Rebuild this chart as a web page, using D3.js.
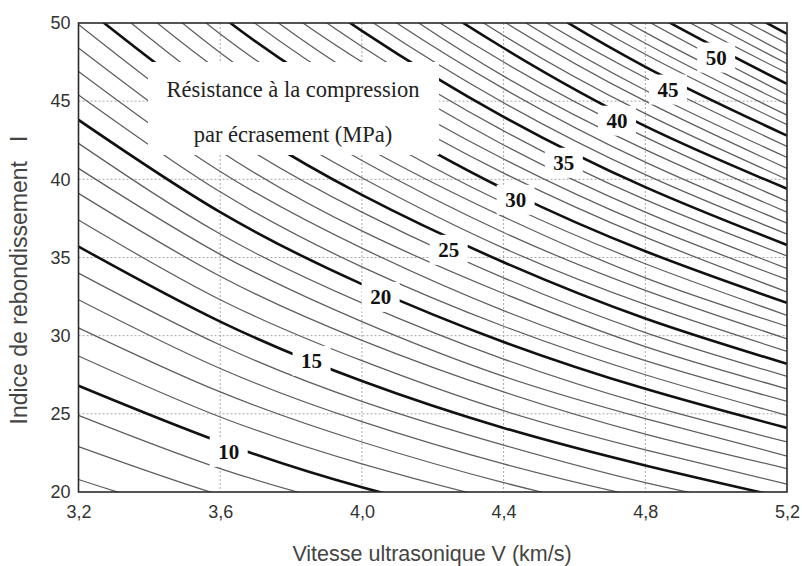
<!DOCTYPE html>
<html><head><meta charset="utf-8">
<script src="https://cdn.jsdelivr.net/npm/d3@7"></script>
<style>body{margin:0;background:#fff}svg{display:block}</style>
</head><body><svg id="chart" width="802" height="566"></svg>
<script>
// ---- data ----
const velocityTicks = [3.2, 3.6, 4.0, 4.4, 4.8, 5.2];
const reboundTicks = [20, 25, 30, 35, 40, 45, 50];
const gridVelocity = [3.6, 4.0, 4.4, 4.8];
const gridRebound = [25, 30, 35, 40, 45];

// strength levels (MPa) of the iso-lines
const levels = [7,8,9,10,11,12,13,14,15,16,17,18,19,20,21,22,23,24,25,26,27,28,29,30,31,
  32,33,34,35,36,37,38,39,40,41,42,43,44,45,46,47,48,49,50,51,52,53,54,55,56];
// rebound index I of each iso-line at each velocity tick
const reboundAtV32 = [20.8,22.9,24.9,26.8,28.7,30.5,32.3,34.0,35.7,37.4,39.1,40.7,42.3,43.8,45.4,46.9,48.4,49.9,51.3,52.8,54.2,55.6,57.0,58.4,59.8,
  61.2,62.5,63.8,65.2,66.5,67.8,69.1,70.4,71.6,72.9,74.2,75.4,76.6,77.9,79.1,80.3,81.5,82.7,83.9,85.1,86.3,87.5,88.6,89.8,90.9];
const reboundAtV36 = [18.0,19.8,21.5,23.2,24.8,26.4,27.9,29.4,30.9,32.3,33.8,35.2,36.5,37.9,39.2,40.5,41.8,43.1,44.4,45.6,46.9,48.1,49.3,50.5,51.7,
  52.9,54.0,55.2,56.3,57.5,58.6,59.7,60.8,61.9,63.0,64.1,65.2,66.3,67.3,68.4,69.5,70.5,71.5,72.6,73.6,74.6,75.6,76.6,77.6,78.6];
const reboundAtV40 = [15.8,17.4,18.9,20.3,21.8,23.2,24.5,25.8,27.1,28.4,29.7,30.9,32.1,33.3,34.4,35.6,36.7,37.9,39.0,40.1,41.2,42.2,43.3,44.4,45.4,
  46.4,47.5,48.5,49.5,50.5,51.5,52.5,53.4,54.4,55.4,56.3,57.3,58.2,59.1,60.1,61.0,61.9,62.8,63.7,64.6,65.5,66.4,67.3,68.2,69.1];
const reboundAtV44 = [14.0,15.4,16.8,18.1,19.4,20.6,21.8,23.0,24.1,25.2,26.4,27.4,28.5,29.6,30.6,31.6,32.7,33.7,34.7,35.6,36.6,37.6,38.5,39.4,40.4,
  41.3,42.2,43.1,44.0,44.9,45.8,46.6,47.5,48.4,49.2,50.1,50.9,51.7,52.6,53.4,54.2,55.0,55.8,56.7,57.5,58.3,59.0,59.8,60.6,61.4];
const reboundAtV48 = [12.6,13.9,15.1,16.2,17.4,18.5,19.6,20.6,21.7,22.7,23.7,24.7,25.6,26.6,27.5,28.4,29.3,30.2,31.1,32.0,32.9,33.7,34.6,35.4,36.3,
  37.1,37.9,38.7,39.5,40.3,41.1,41.9,42.7,43.4,44.2,45.0,45.7,46.5,47.2,48.0,48.7,49.4,50.2,50.9,51.6,52.3,53.0,53.7,54.4,55.1];
const reboundAtV52 = [11.4,12.6,13.7,14.7,15.7,16.8,17.7,18.7,19.6,20.5,21.5,22.3,23.2,24.1,24.9,25.8,26.6,27.4,28.2,29.0,29.8,30.6,31.3,32.1,32.8,
  33.6,34.3,35.1,35.8,36.5,37.2,37.9,38.6,39.4,40.0,40.7,41.4,42.1,42.8,43.5,44.1,44.8,45.4,46.1,46.8,47.4,48.0,48.7,49.3,50.0];

// labelled (bold) iso-lines and where their labels sit
const labelLevels = [10, 15, 20, 25, 30, 35, 40, 45, 50];
const labelV = [3.624, 3.858, 4.053, 4.245, 4.434, 4.570, 4.720, 4.864, 5.000];
const labelI = [22.56, 28.39, 32.48, 35.49, 38.69, 41.06, 43.75, 45.74, 47.79];

const boxLines = ["Résistance à la compression", "par écrasement (MPa)"];
const xTitle = "Vitesse ultrasonique V (km/s)";
const yTitle = "Indice de rebondissement   I";

// ---- drawing ----
const svg = d3.select("#chart");
const L = 78.5, R = 787, T = 23, B = 492;
const x = d3.scaleLinear().domain([3.2, 5.2]).range([L, R]);
const y = d3.scaleLinear().domain([20, 50]).range([B, T]);

svg.append("defs").append("clipPath").attr("id", "plotclip")
  .append("rect").attr("x", L).attr("y", T).attr("width", R - L).attr("height", B - T);

const plot = svg.append("g").attr("clip-path", "url(#plotclip)");

// grid
plot.append("g").selectAll("line").data(gridVelocity).join("line")
  .attr("x1", d => x(d)).attr("x2", d => x(d)).attr("y1", T).attr("y2", B)
  .attr("stroke", "#a8a8a8").attr("stroke-width", 1).attr("stroke-dasharray", "2,2");
plot.append("g").selectAll("line").data(gridRebound).join("line")
  .attr("y1", d => y(d)).attr("y2", d => y(d)).attr("x1", L).attr("x2", R)
  .attr("stroke", "#a8a8a8").attr("stroke-width", 1).attr("stroke-dasharray", "2,2");

const columns = [reboundAtV32, reboundAtV36, reboundAtV40, reboundAtV44, reboundAtV48, reboundAtV52];
const series = levels.map((lv, i) => ({
  level: lv,
  pts: velocityTicks.map((v, j) => [v, columns[j][i]])
}));
const line = d3.line().x(d => x(d[0])).y(d => y(d[1])).curve(d3.curveNatural);

plot.append("g").selectAll("path").data(series.filter(s => s.level % 5 !== 0)).join("path")
  .attr("d", s => line(s.pts)).attr("fill", "none")
  .attr("stroke", "#5e5e5e").attr("stroke-width", 1.25);
plot.append("g").selectAll("path").data(series.filter(s => s.level % 5 === 0)).join("path")
  .attr("d", s => line(s.pts)).attr("fill", "none")
  .attr("stroke", "#111").attr("stroke-width", 2.6);

// text box
plot.append("rect").attr("x", 148).attr("y", 62).attr("width", 291).attr("height", 93).attr("fill", "#fff");
svg.append("g").selectAll("text").data(boxLines).join("text")
  .attr("x", 293).attr("y", (d, i) => 97 + i * 45)
  .attr("text-anchor", "middle")
  .attr("font-family", "Liberation Serif, Times New Roman, serif")
  .attr("font-size", 22.5).attr("fill", "#222").text(d => d);

// contour labels
const lab = svg.append("g");
labelLevels.forEach((lv, i) => {
  const cx = x(labelV[i]), cy = y(labelI[i]);
  lab.append("rect").attr("x", cx - 19).attr("y", cy - 15).attr("width", 38).attr("height", 30).attr("fill", "#fff");
  lab.append("text").attr("x", cx).attr("y", cy + 7)
    .attr("text-anchor", "middle")
    .attr("font-family", "Liberation Serif, Times New Roman, serif")
    .attr("font-weight", "bold").attr("font-size", 21).attr("fill", "#111").text(lv);
});

// frame
svg.append("rect").attr("x", L).attr("y", T).attr("width", R - L).attr("height", B - T)
  .attr("fill", "none").attr("stroke", "#2a2a2a").attr("stroke-width", 1.6);

// axes
const fmtComma = d => d3.format(".1f")(d).replace(".", ",");
const xAxis = svg.append("g").attr("transform", `translate(0,${B})`)
  .call(d3.axisBottom(x).tickValues(velocityTicks).tickFormat(fmtComma).tickSize(0).tickPadding(13));
const yAxis = svg.append("g").attr("transform", `translate(${L},0)`)
  .call(d3.axisLeft(y).tickValues(reboundTicks).tickFormat(d3.format("d")).tickSize(0).tickPadding(8));
[xAxis, yAxis].forEach(a => {
  a.select(".domain").remove();
  a.selectAll("text").attr("font-family", "Liberation Sans, Arial, sans-serif")
    .attr("font-size", 18).attr("fill", "#333");
});

svg.append("text").attr("x", 432).attr("y", 561).attr("text-anchor", "middle")
  .attr("font-family", "Liberation Sans, Arial, sans-serif").attr("font-size", 21.5)
  .attr("fill", "#444").text(xTitle);
svg.append("text").attr("transform", "translate(27,280) rotate(-90)").attr("text-anchor", "middle")
  .attr("font-family", "Liberation Sans, Arial, sans-serif").attr("font-size", 23)
  .attr("fill", "#444").attr("xml:space", "preserve").style("white-space", "pre").text(yTitle);
</script></body></html>
